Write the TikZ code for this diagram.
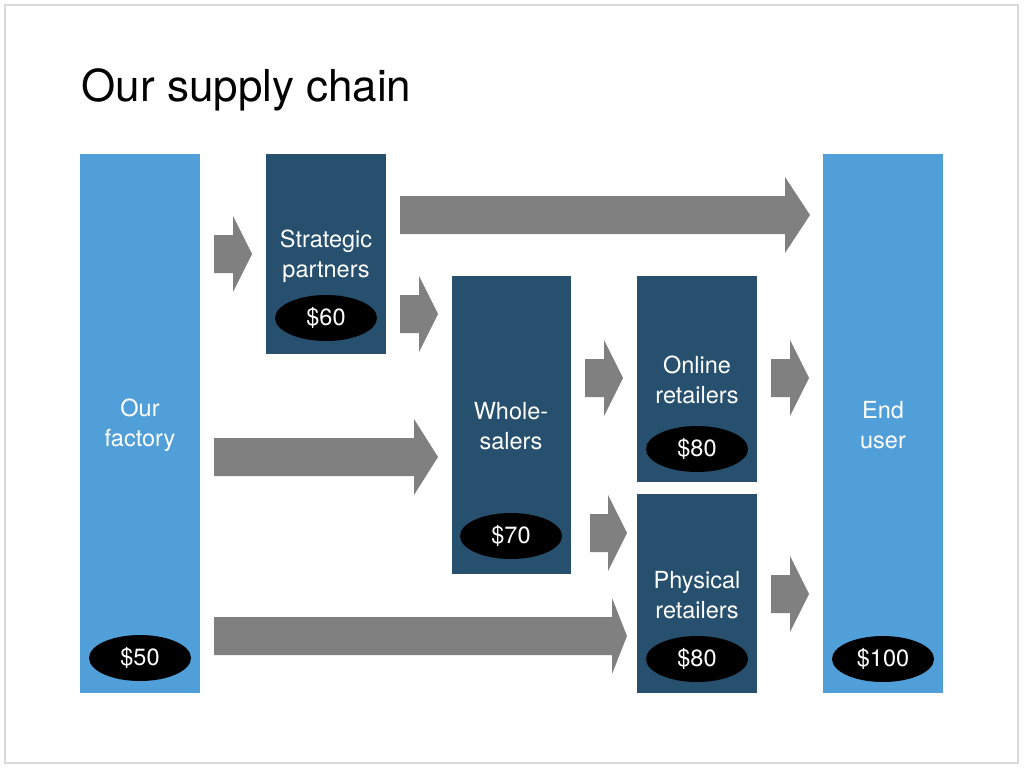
\documentclass[tikz,border=0pt]{standalone}
\usepackage{fontspec}
\setmainfont{TeX Gyre Heros}
\usetikzlibrary{shapes.geometric}
\definecolor{light}{HTML}{509FD9}
\definecolor{dark}{HTML}{27506F}
\definecolor{arr}{HTML}{808080}
\begin{document}
\begin{tikzpicture}[x=1pt,y=-1pt,
  box/.style={draw=none,minimum width=120pt,anchor=north west,inner sep=0pt,text=white,font=\fontsize{23.5}{30}\selectfont,align=center},
  tag/.style={ellipse,fill=black,text=white,minimum width=102pt,minimum height=46pt,inner sep=0pt,font=\fontsize{23.5}{26}\selectfont}]
\useasboundingbox (0,0) rectangle (1024,768);
\draw[gray!30,line width=1.5pt] (5,5) rectangle (1018,763);
\node[anchor=base west,font=\fontsize{44}{50}\selectfont] (title) at (78,101) {Our supply chain};
\newcommand\arw[4]{\fill[arr] (#1,#3-19) -- (#4,#3-19) -- (#4,#3-38) -- (#2,#3) -- (#4,#3+38) -- (#4,#3+19) -- (#1,#3+19) -- cycle;}
\fill[light] (80,154) rectangle (200,693);
\fill[dark] (266,154) rectangle (386,354);
\fill[dark] (452,276) rectangle (571,574);
\fill[dark] (637,276) rectangle (757,482);
\fill[dark] (637,494) rectangle (757,693);
\fill[light] (823,154) rectangle (943,693);
\node[box,anchor=center] (fac) at (140,425) {Our\\factory};
\node[box,anchor=center] (sp) at (326,256) {Strategic\\partners};
\node[box,anchor=center] (wh) at (511,426) {Whole-\\salers};
\node[box,anchor=center] (on) at (697,380) {Online\\retailers};
\node[box,anchor=center] (ph) at (697,595) {Physical\\retailers};
\node[box,anchor=center] (eu) at (883,425) {End\\user};
\node[tag] (t1) at (140,658) {\$50};
\node[tag] (t2) at (326,318) {\$60};
\node[tag] (t3) at (511,536) {\$70};
\node[tag] (t4) at (697,449) {\$80};
\node[tag] (t5) at (697,659) {\$80};
\node[tag] (t6) at (883,659) {\$100};
\arw{214}{252}{254}{233}
\arw{400}{810}{215}{785}
\arw{400}{438}{314}{419}
\arw{214}{438}{457}{414}
\arw{585}{623}{378}{604}
\arw{771}{809}{378}{790}
\arw{590}{627}{533}{608}
\arw{214}{627}{636}{612}
\arw{771}{809}{594}{790}
\end{tikzpicture}
\end{document}
